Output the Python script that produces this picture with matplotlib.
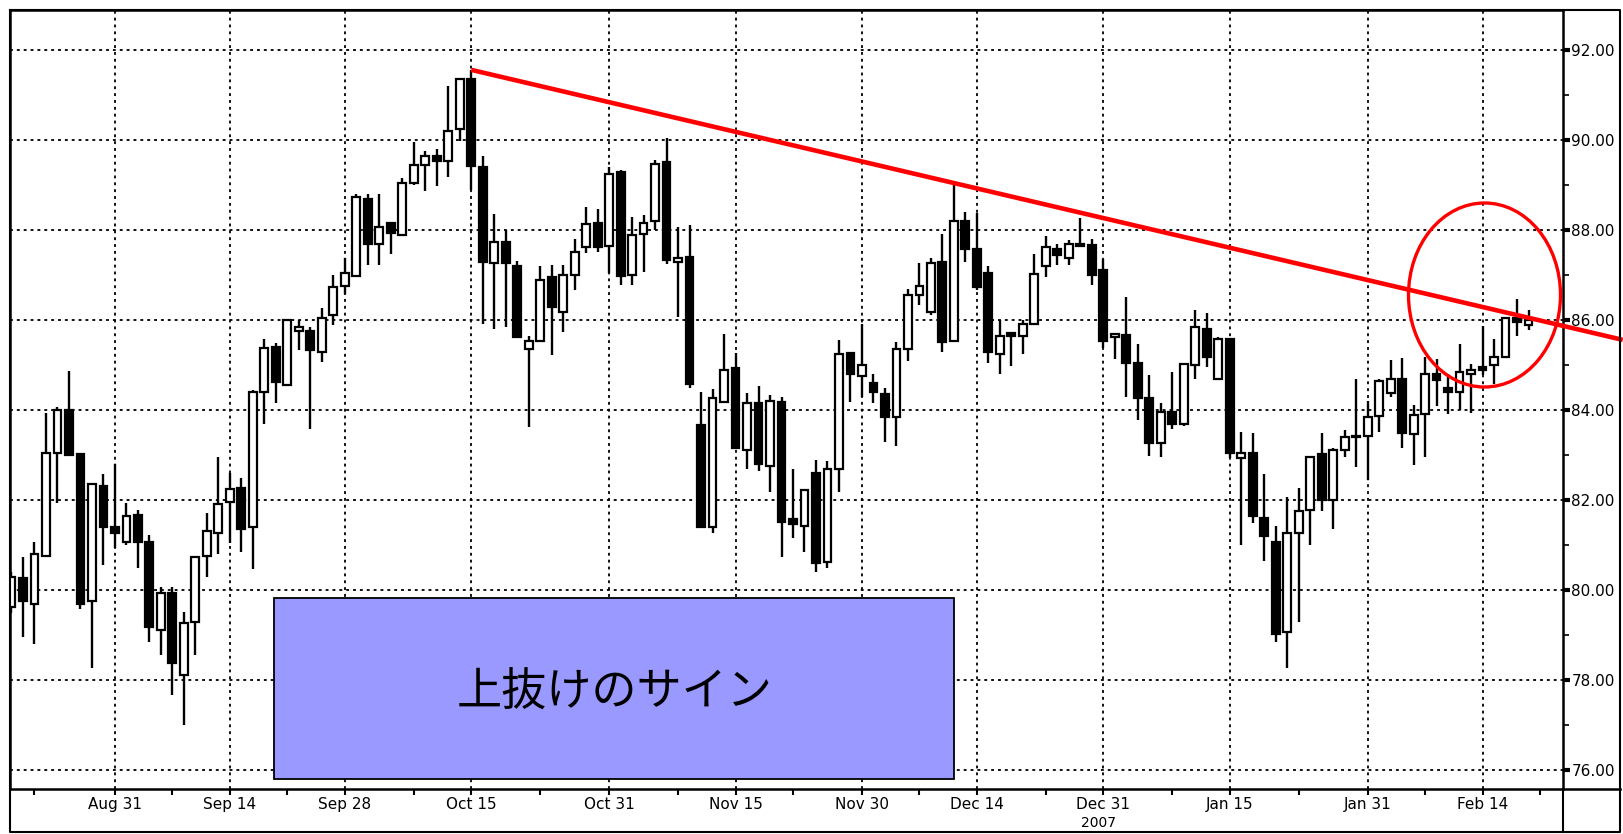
import matplotlib
matplotlib.use('Agg')
import matplotlib.pyplot as plt
from matplotlib.patches import Rectangle, Ellipse
import numpy as np

plt.rcParams['font.family'] = ['Liberation Sans Narrow', 'DejaVu Sans']

# daily OHLC, one candle per trading day (index 0..132)
opens = [79.63, 80.26, 79.70, 80.76, 83.05, 84.01, 83.02, 79.76, 82.31, 81.41,
         81.06, 81.67, 81.07, 79.11, 79.93, 78.11, 79.30, 80.76, 81.27, 81.96,
         82.26, 81.41, 84.41, 85.41, 84.56, 85.75, 85.76, 85.30, 86.11, 86.76,
         86.98, 88.70, 87.70, 88.15, 87.89, 89.04, 89.44, 89.64, 89.54, 90.24,
         91.35, 89.41, 87.26, 87.74, 87.20, 85.35, 85.54, 86.96, 86.19, 87.00,
         87.63, 88.16, 87.64, 89.30, 87.00, 87.91, 88.21, 89.52, 87.30, 87.41,
         83.67, 81.41, 84.19, 84.93, 83.11, 84.16, 82.76, 84.19, 81.57, 81.42,
         82.60, 80.63, 82.70, 85.26, 84.76, 84.61, 84.36, 83.85, 85.35, 86.56,
         86.19, 87.30, 85.54, 88.21, 87.57, 87.04, 85.24, 85.72, 85.64, 85.91,
         87.20, 87.59, 87.39, 87.69, 87.67, 87.11, 85.62, 85.67, 85.05, 84.26,
         83.26, 83.96, 83.69, 85.00, 85.81, 84.70, 85.57, 82.93, 83.05, 81.61,
         81.07, 79.07, 81.27, 81.78, 83.02, 82.00, 83.11, 83.40, 83.42, 83.87,
         84.39, 84.70, 83.47, 83.91, 84.80, 84.50, 84.41, 84.81, 84.95, 85.00,
         85.19, 86.04, 85.89]
closes = [80.30, 79.76, 80.81, 83.05, 84.01, 83.00, 79.70, 82.36, 81.41, 81.26,
          81.64, 81.06, 79.17, 79.93, 78.37, 79.26, 80.74, 81.32, 81.91, 82.24,
          81.36, 84.41, 85.37, 84.63, 86.00, 85.85, 85.33, 86.04, 86.74, 87.05,
          88.74, 87.70, 88.07, 87.94, 89.04, 89.44, 89.64, 89.54, 90.21, 91.35,
          89.42, 87.30, 87.74, 87.26, 85.63, 85.54, 86.90, 86.30, 87.00, 87.52,
          88.13, 87.63, 89.24, 86.98, 87.89, 88.16, 89.47, 87.33, 87.39, 84.58,
          81.41, 84.26, 84.90, 83.15, 84.15, 82.81, 84.21, 81.52, 81.47, 82.22,
          80.60, 82.70, 85.24, 84.80, 85.00, 84.41, 83.85, 85.35, 86.56, 86.76,
          87.27, 85.52, 88.21, 87.59, 86.73, 85.30, 85.64, 85.64, 85.91, 87.02,
          87.63, 87.44, 87.69, 87.65, 87.00, 85.54, 85.70, 85.04, 84.26, 83.26,
          83.96, 83.70, 85.02, 85.84, 85.19, 85.57, 83.04, 83.04, 81.64, 81.20,
          79.02, 81.26, 81.76, 82.96, 82.01, 83.11, 83.41, 83.42, 83.85, 84.65,
          84.68, 83.50, 83.89, 84.81, 84.67, 84.41, 84.85, 84.90, 84.90, 85.19,
          86.04, 85.96, 86.00]
highs = [80.40, 80.74, 81.07, 83.93, 84.06, 84.87, 83.02, 82.36, 82.58, 82.81,
         81.93, 81.78, 81.22, 80.07, 80.07, 79.52, 80.74, 81.72, 82.96, 82.61,
         82.48, 84.45, 85.57, 85.50, 86.00, 86.01, 85.85, 86.26, 87.00, 87.39,
         88.81, 88.80, 88.80, 88.19, 89.15, 89.96, 89.76, 89.81, 91.20, 91.39,
         91.56, 89.64, 88.36, 88.00, 87.32, 85.64, 87.20, 87.22, 87.22, 87.81,
         88.52, 88.46, 89.41, 89.33, 88.30, 88.33, 89.55, 90.04, 88.06, 88.11,
         84.41, 84.46, 85.70, 85.26, 84.37, 84.53, 84.33, 84.28, 82.68, 82.25,
         82.89, 82.87, 85.56, 85.30, 85.91, 84.80, 84.50, 85.52, 86.70, 87.26,
         87.37, 87.91, 89.04, 88.41, 88.37, 87.20, 86.00, 85.72, 86.01, 87.47,
         87.87, 87.69, 87.79, 88.26, 87.80, 87.36, 85.70, 86.52, 85.47, 84.78,
         84.16, 84.85, 85.02, 86.22, 86.16, 85.62, 85.60, 83.52, 83.48, 82.58,
         81.42, 82.07, 82.26, 82.96, 83.48, 83.15, 83.56, 84.70, 84.21, 84.70,
         85.11, 85.15, 84.11, 85.19, 85.13, 84.80, 85.47, 85.02, 85.87, 85.57,
         86.04, 86.46, 86.22]
lows = [79.50, 78.96, 78.81, 80.76, 81.93, 83.00, 79.59, 78.26, 80.56, 80.93,
        81.00, 80.48, 78.85, 78.56, 77.67, 77.00, 78.56, 80.30, 80.81, 81.04,
        80.85, 80.46, 83.70, 84.15, 84.56, 85.33, 83.59, 85.07, 85.89, 86.59,
        86.98, 87.22, 87.22, 87.47, 87.89, 89.00, 88.87, 88.98, 89.17, 89.99,
        88.89, 85.91, 85.80, 85.84, 85.60, 83.63, 85.54, 85.22, 85.74, 86.67,
        87.48, 87.52, 87.04, 86.78, 86.78, 87.07, 88.00, 87.24, 86.07, 84.50,
        81.37, 81.26, 84.15, 83.13, 82.70, 82.65, 82.19, 80.74, 81.15, 80.85,
        80.40, 80.48, 82.19, 84.19, 84.30, 84.15, 83.30, 83.20, 85.10, 86.33,
        86.11, 85.30, 85.54, 87.30, 86.67, 85.04, 84.80, 84.98, 85.24, 85.91,
        86.95, 87.22, 87.22, 87.62, 86.78, 85.39, 85.13, 84.30, 83.79, 82.98,
        82.95, 83.59, 83.64, 84.68, 84.95, 84.70, 82.93, 81.00, 81.50, 80.65,
        78.85, 78.27, 79.30, 81.00, 81.76, 81.35, 82.96, 82.74, 82.44, 83.52,
        84.30, 83.15, 82.78, 82.96, 84.09, 83.91, 84.01, 83.94, 84.78, 84.58,
        85.19, 85.64, 85.78]

date_labels = ['Aug 31', 'Sep 14', 'Sep 28', 'Oct 15', 'Oct 31', 'Nov 15',
               'Nov 30', 'Dec 14', 'Dec 31', 'Jan 15', 'Jan 31', 'Feb 14']
date_idx = [9, 19, 29, 40, 52, 63, 74, 84, 95, 106, 118, 128]
minor_idx = [2, 14, 24, 35, 46, 58, 68, 79, 90, 101, 112, 123, 133]
year_label = '2007'

# trend line: from the Oct 15 high down to this level at the far right
trend_start = 40
trend_end_x = 140.2
trend_end_y = 85.56

sign_text = '上抜けのサイン'

W, H = 1624, 834
fig = plt.figure(figsize=(W / 100, H / 100), dpi=100)
ax = fig.add_axes([10 / W, 1 - 789 / H, (1563 - 10) / W, (789 - 10) / H])

x = np.arange(len(opens))
o = np.array(opens)
c = np.array(closes)
up = c >= o

ax.vlines(x, lows, highs, color='black', lw=1.7, zorder=3)
ax.bar(x[up], c[up] - o[up], bottom=o[up], width=0.68, color='white',
       edgecolor='black', linewidth=1.6, zorder=4)
ax.bar(x[~up], o[~up] - c[~up], bottom=c[~up], width=0.68, color='black',
       edgecolor='black', linewidth=1.6, zorder=4)

ax.set_xlim(-0.13, 135.0)
ax.set_ylim(75.58, 92.89)

grid_ls = (0, (1.6, 2.2))
for p in range(76, 93, 2):
    ax.axhline(p, color='black', lw=1.3, ls=grid_ls, zorder=1)
for i in date_idx:
    ax.axvline(i, color='black', lw=1.3, ls=grid_ls, zorder=1)

ax.yaxis.tick_right()
ax.set_yticks(range(76, 93, 2))
ax.set_yticklabels([f'{v:.2f}' for v in range(76, 93, 2)])
ax.set_yticks(range(77, 93, 2), minor=True)
ax.tick_params(axis='y', which='major', length=5, width=3, direction='out',
               labelsize=11, pad=1)
ax.tick_params(axis='y', which='minor', length=4, width=1.2, direction='out')

ax.set_xticks(date_idx)
ax.set_xticklabels(date_labels)
ax.set_xticks(minor_idx, minor=True)
ax.tick_params(axis='x', which='major', length=4, width=1.5, direction='out',
               labelsize=11, pad=1.5)
ax.tick_params(axis='x', which='minor', length=4, width=1.5, direction='out')
for s in ax.spines.values():
    s.set_linewidth(1.8)

# trend line over the highs
ax.plot([trend_start, trend_end_x], [highs[trend_start], trend_end_y],
        color='#ff0000', lw=3.3, clip_on=False, zorder=6, solid_capstyle='butt')

# overlay in pixel coordinates for frame, label box and circle
ov = fig.add_axes([0, 0, 1, 1])
ov.set_xlim(0, W)
ov.set_ylim(H, 0)
ov.axis('off')
ov.patch.set_alpha(0)

ov.plot([10, 10, 1620, 1620, 10], [10, 832, 832, 10, 10], color='black', lw=1.5)
ov.plot([1563, 1620], [789, 789], color='black', lw=1.8)
ov.plot([1563, 1563], [789, 832], color='black', lw=1.5)

ov.add_patch(Ellipse((1484.5, 295), 152, 184, fill=False, edgecolor='#ff0000', lw=2.4))

ov.add_patch(Rectangle((274.5, 597.5), 680, 181.5, facecolor='#9999ff',
                       edgecolor='black', lw=1.3, zorder=5))
ov.text(614.5, 693, sign_text, ha='center', va='center', fontsize=32.5,
        family=['Noto Sans CJK JP', 'DejaVu Sans'], zorder=6)

ov.text(11.5 + date_idx[8] * 11.5 - 5, 823, year_label, ha='center', va='center',
        fontsize=10)

fig.savefig('out.png', dpi=100)
